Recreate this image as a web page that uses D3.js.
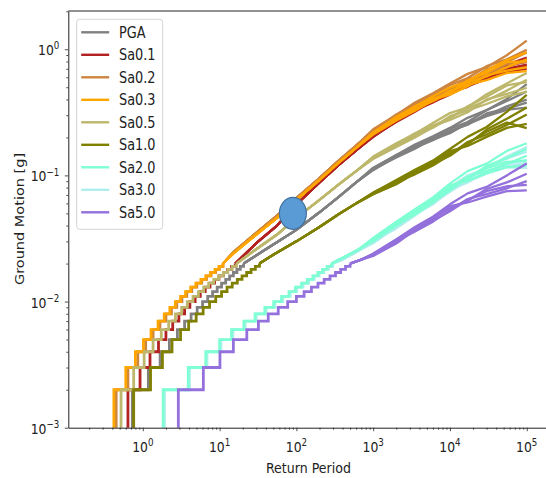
<!DOCTYPE html>
<html>
<head>
<meta charset="utf-8">
<script src="https://cdn.jsdelivr.net/npm/d3@7"></script>
<style>
  body { margin: 0; background: #fff; }
  text { font-family: "DejaVu Sans", sans-serif; fill: #222; }
</style>
</head>
<body>
<svg id="chart" width="546" height="478"></svg>
<script>

// ground motion levels of the staircase part (0.001 g resolution)
var levels = [0.002, 0.003, 0.004, 0.005, 0.006, 0.007, 0.008, 0.009, 0.010,
              0.011, 0.012, 0.013, 0.014, 0.015, 0.016, 0.017, 0.018, 0.019, 0.020];

// return period at which each level is first reached
var pgaStairs  = [0.73, 1.18, 1.68, 2.22, 2.82, 3.5, 4.25, 5.1, 6.0, 7.0, 8.1, 9.3, 10.6, 12.0, 13.5, 15.1, 16.8, 18.6, 20.5];
var sa01Stairs = [0.64, 0.92, 1.24, 1.60, 2.0, 2.45, 2.95, 3.5, 4.1, 4.8, 5.6, 6.5, 7.5, 8.6, 9.8, 11.2, 12.7, 14.3, 16.0];
var sa02Stairs = [0.45, 0.64, 0.86, 1.09, 1.36, 1.67, 2.0, 2.36, 2.77, 3.23, 3.74, 4.34, 5.05, 5.85, 6.75, 7.75, 8.85, 9.95, 11.1];
var sa03Stairs = [0.42, 0.60, 0.80, 1.02, 1.28, 1.58, 1.90, 2.25, 2.65, 3.1, 3.6, 4.2, 4.9, 5.7, 6.6, 7.6, 8.7, 9.8, 11.0];
var sa05Stairs = [0.52, 0.76, 1.04, 1.36, 1.74, 2.17, 2.66, 3.2, 3.8, 4.5, 5.3, 6.2, 7.2, 8.4, 9.7, 11.2, 12.8, 14.6, 16.6];
var sa10Stairs = [0.76, 1.26, 1.80, 2.40, 3.10, 3.95, 4.95, 6.1, 7.4, 8.9, 10.6, 12.5, 14.6, 17.0, 19.6, 22.5, 25.7, 29.2, 33.0];
var sa20Stairs = [1.84, 3.9, 6.6, 10.0, 14.3, 20.7, 28.9, 38.8, 50.5, 64, 80, 97, 117, 139, 164, 190, 219, 251, 286];
var sa30Stairs = [1.91, 4.05, 6.85, 10.4, 14.9, 21.5, 30, 40.4, 52.5, 66.5, 83, 101, 122, 145, 171, 198, 228, 261, 297];
var sa50Stairs = [2.9, 6.14, 10.1, 15.1, 22.6, 32, 43, 58, 77, 100, 126, 157, 191, 230, 274, 323, 377, 436, 500];

// [return period, ground motion] between the staircase and the tails
var pgaBody  = [[40, 0.026], [100, 0.037], [200, 0.051], [350, 0.067], [600, 0.088]];
var sa01Body = [[30, 0.029], [56, 0.040], [100, 0.059], [200, 0.088], [350, 0.120], [600, 0.158]];
var sa02Body = [[15, 0.0245], [30, 0.035], [56, 0.048], [100, 0.066], [200, 0.095], [350, 0.130], [600, 0.172]];
var sa03Body = [[15, 0.024], [30, 0.034], [56, 0.046], [100, 0.064], [200, 0.092], [350, 0.125], [600, 0.165]];
var sa05Body = [[30, 0.026], [56, 0.034], [100, 0.046], [200, 0.064], [350, 0.084], [600, 0.108]];
var sa10Body = [[50, 0.0235], [100, 0.030], [200, 0.039], [350, 0.049], [600, 0.060]];
var sa20Body = [[420, 0.0225], [650, 0.026]];
var sa30Body = [[430, 0.022], [660, 0.0255]];
var sa50Body = [[700, 0.0215]];

// tails: one row per realization, at these return periods
var tailPeriods = [1000, 2000, 3500, 6000, 10000, 17000, 30000, 55000, 100000];

var pgaTail = [
  [0.113, 0.145, 0.168, 0.201, 0.234, 0.265, 0.329, 0.389, 0.462],
  [0.111, 0.141, 0.170, 0.192, 0.216, 0.260, 0.298, 0.353, 0.399],
  [0.112, 0.139, 0.163, 0.196, 0.225, 0.252, 0.310, 0.338, 0.378],
  [0.115, 0.145, 0.176, 0.204, 0.238, 0.286, 0.329, 0.403, 0.529],
  [0.110, 0.142, 0.166, 0.190, 0.223, 0.255, 0.295, 0.331, 0.344]
];
var sa01Tail = [
  [0.207, 0.275, 0.330, 0.402, 0.473, 0.530, 0.647, 0.756, 0.858],
  [0.203, 0.267, 0.333, 0.382, 0.437, 0.520, 0.586, 0.686, 0.741],
  [0.205, 0.265, 0.320, 0.390, 0.455, 0.504, 0.610, 0.658, 0.702],
  [0.205, 0.273, 0.340, 0.394, 0.446, 0.541, 0.622, 0.735, 0.796],
  [0.201, 0.270, 0.327, 0.378, 0.450, 0.510, 0.580, 0.700, 0.757]
];
var sa02Tail = [
  [0.232, 0.301, 0.378, 0.447, 0.535, 0.638, 0.721, 0.896, 1.17],
  [0.221, 0.295, 0.349, 0.434, 0.490, 0.557, 0.694, 0.792, 0.945],
  [0.225, 0.286, 0.356, 0.409, 0.485, 0.580, 0.632, 0.760, 0.792],
  [0.227, 0.304, 0.364, 0.439, 0.520, 0.592, 0.734, 0.832, 0.990],
  [0.223, 0.289, 0.360, 0.426, 0.475, 0.539, 0.653, 0.720, 0.828]
];
var sa03Tail = [
  [0.219, 0.291, 0.350, 0.424, 0.497, 0.557, 0.682, 0.821, 0.944],
  [0.213, 0.274, 0.340, 0.388, 0.455, 0.546, 0.608, 0.720, 0.832],
  [0.215, 0.283, 0.333, 0.400, 0.437, 0.509, 0.620, 0.677, 0.720],
  [0.211, 0.272, 0.326, 0.392, 0.469, 0.525, 0.570, 0.648, 0.672],
  [0.217, 0.286, 0.354, 0.404, 0.451, 0.567, 0.651, 0.792, 0.800]
];
var sa05Tail = [
  [0.141, 0.180, 0.214, 0.260, 0.312, 0.347, 0.440, 0.536, 0.649],
  [0.137, 0.170, 0.208, 0.239, 0.286, 0.340, 0.392, 0.470, 0.572],
  [0.138, 0.175, 0.204, 0.246, 0.275, 0.317, 0.400, 0.442, 0.495],
  [0.135, 0.168, 0.200, 0.241, 0.295, 0.327, 0.368, 0.423, 0.462],
  [0.139, 0.176, 0.216, 0.248, 0.283, 0.353, 0.420, 0.517, 0.550]
];
var sa10Tail = [
  [0.073, 0.092, 0.111, 0.131, 0.162, 0.202, 0.242, 0.319, 0.435],
  [0.071, 0.086, 0.105, 0.129, 0.150, 0.176, 0.231, 0.281, 0.346],
  [0.072, 0.089, 0.102, 0.120, 0.146, 0.184, 0.211, 0.251, 0.304],
  [0.071, 0.085, 0.104, 0.125, 0.156, 0.171, 0.202, 0.238, 0.256],
  [0.073, 0.090, 0.107, 0.123, 0.143, 0.180, 0.222, 0.262, 0.237]
];
var sa20Tail = [
  [0.032, 0.043, 0.054, 0.067, 0.086, 0.108, 0.124, 0.156, 0.180],
  [0.031, 0.040, 0.051, 0.066, 0.080, 0.094, 0.119, 0.137, 0.162],
  [0.031, 0.041, 0.049, 0.061, 0.078, 0.098, 0.108, 0.123, 0.143],
  [0.030, 0.040, 0.050, 0.064, 0.083, 0.091, 0.104, 0.116, 0.120],
  [0.031, 0.042, 0.052, 0.063, 0.076, 0.096, 0.114, 0.128, 0.131]
];
var sa30Tail = [
  [0.030, 0.040, 0.049, 0.063, 0.080, 0.093, 0.114, 0.136, 0.154],
  [0.030, 0.039, 0.049, 0.060, 0.074, 0.091, 0.104, 0.123, 0.133],
  [0.030, 0.038, 0.048, 0.061, 0.077, 0.088, 0.108, 0.118, 0.126],
  [0.031, 0.040, 0.051, 0.063, 0.081, 0.100, 0.114, 0.141, 0.168],
  [0.029, 0.039, 0.049, 0.059, 0.076, 0.089, 0.103, 0.116, 0.115]
];
var sa50Tail = [
  [0.024, 0.031, 0.039, 0.047, 0.059, 0.072, 0.081, 0.100, 0.124],
  [0.0233, 0.029, 0.037, 0.046, 0.055, 0.063, 0.078, 0.088, 0.103],
  [0.0235, 0.030, 0.036, 0.043, 0.053, 0.065, 0.071, 0.079, 0.090],
  [0.023, 0.029, 0.037, 0.045, 0.057, 0.061, 0.068, 0.075, 0.076],
  [0.0237, 0.031, 0.038, 0.044, 0.052, 0.064, 0.075, 0.082, 0.084]
];

var names  = ["PGA", "Sa0.1", "Sa0.2", "Sa0.3", "Sa0.5", "Sa1.0", "Sa2.0", "Sa3.0", "Sa5.0"];
var colors = ["#808080", "#b22222", "#cd853f", "#ffa500", "#bdb76b", "#808000", "#7fffd4", "#afeeee", "#9370db"];
var stairs = [pgaStairs, sa01Stairs, sa02Stairs, sa03Stairs, sa05Stairs, sa10Stairs, sa20Stairs, sa30Stairs, sa50Stairs];
var bodies = [pgaBody, sa01Body, sa02Body, sa03Body, sa05Body, sa10Body, sa20Body, sa30Body, sa50Body];
var tails  = [pgaTail, sa01Tail, sa02Tail, sa03Tail, sa05Tail, sa10Tail, sa20Tail, sa30Tail, sa50Tail];

// highlighted point
var marker = {period: 90, motion: 0.05};

var xMajor = [1, 10, 100, 1000, 10000, 100000];
var xExp   = ["0", "1", "2", "3", "4", "5"];
var yMajor = [0.001, 0.01, 0.1, 1];
var yExp   = ["\u22123", "\u22122", "\u22121", "0"];

window.onload = () => {

  var svg = d3.select("#chart");
  var left = 68.3, right = 548.5, top = 11, bottom = 427.7;
  var stretch = 1.18;   // the picture is taller than it is wide

  var x = d3.scaleLog().domain([0.107, 1.92e5]).range([left, right]);
  var y = d3.scaleLog().domain([1e-3, 2.01]).range([bottom, top]);

  svg.append("defs").append("clipPath").attr("id", "clip")
    .append("rect")
      .attr("x", left).attr("y", top)
      .attr("width", right - left).attr("height", bottom - top);

  //###############################################
  // Curves
  //###############################################

  var plot = svg.append("g").attr("clip-path", "url(#clip)");

  var stepLine = d3.line()
    .x(function(d) { return x(d[0]); })
    .y(function(d) { return y(d[1]); })
    .curve(d3.curveStepAfter);

  var straight = d3.line()
    .x(function(d) { return x(d[0]); })
    .y(function(d) { return y(d[1]); });

  // Sa3.0 sits under Sa2.0
  var order = [0, 1, 2, 3, 4, 5, 7, 6, 8];

  order.forEach(function(s) {
    var st = stairs[s];
    var pts = [[st[0], 0.0009]].concat(st.map(function(t, i) { return [t, levels[i]]; }));

    var last = [st[st.length - 1], levels[levels.length - 1]];
    tails[s].forEach(function(row) {
      var line = [last].concat(bodies[s])
        .concat(tailPeriods.map(function(t, i) { return [t, row[i]]; }));
      plot.append("path")
        .attr("d", straight(line))
        .attr("fill", "none")
        .attr("stroke", colors[s])
        .attr("stroke-width", 2.3)
        .attr("stroke-linejoin", "round");
    });

    plot.append("path")
      .attr("d", stepLine(pts))
      .attr("fill", "none")
      .attr("stroke", colors[s])
      .attr("stroke-width", 2.8);
  });

  svg.append("ellipse")
    .attr("cx", x(marker.period))
    .attr("cy", y(marker.motion))
    .attr("rx", 13.5)
    .attr("ry", 16)
    .attr("fill", "#5b9bd5")
    .attr("stroke", "#41719c")
    .attr("stroke-width", 1.2);

  //###############################################
  // Axes
  //###############################################

  var xMinor = x.ticks().filter(function(t) { return xMajor.indexOf(t) < 0; });
  var yMinor = y.ticks().filter(function(t) { return yMajor.indexOf(t) < 0; });

  var gx = svg.append("g").attr("transform", "translate(0," + bottom + ")");
  gx.call(d3.axisBottom(x).tickValues(xMajor).tickSize(3.5).tickSizeOuter(0).tickFormat(""));
  gx.append("g").call(d3.axisBottom(x).tickValues(xMinor).tickSize(2).tickSizeOuter(0).tickFormat(""))
    .select(".domain").remove();

  var gy = svg.append("g").attr("transform", "translate(" + left + ",0)");
  gy.call(d3.axisLeft(y).tickValues(yMajor).tickSize(3.5).tickSizeOuter(0).tickFormat(""));
  gy.append("g").call(d3.axisLeft(y).tickValues(yMinor).tickSize(2).tickSizeOuter(0).tickFormat(""))
    .select(".domain").remove();

  svg.selectAll(".domain").attr("stroke", "#222").attr("stroke-width", 1);
  svg.selectAll(".tick line").attr("stroke", "#222").attr("stroke-width", 0.8);

  svg.append("line")
    .attr("x1", left).attr("x2", right)
    .attr("y1", top).attr("y2", top)
    .attr("stroke", "#222").attr("stroke-width", 1);
  svg.append("line")
    .attr("x1", right).attr("x2", right)
    .attr("y1", top).attr("y2", bottom)
    .attr("stroke", "#222").attr("stroke-width", 1);

  var xl = svg.append("g").selectAll("text")
    .data(xMajor)
    .enter().append("text")
      .attr("transform", function(d) { return "translate(" + x(d) + ",451.5) scale(1," + stretch + ")"; })
      .attr("text-anchor", "middle")
      .style("font-size", "12.4px");
  xl.append("tspan").text("10");
  xl.append("tspan")
      .attr("dy", -5)
      .style("font-size", "8.7px")
      .text(function(d, i) { return xExp[i]; });

  var yl = svg.append("g").selectAll("text")
    .data(yMajor)
    .enter().append("text")
      .attr("transform", function(d) { return "translate(" + (left - 9) + "," + (y(d) + 6) + ") scale(1," + stretch + ")"; })
      .attr("text-anchor", "end")
      .style("font-size", "12.4px");
  yl.append("tspan").text("10");
  yl.append("tspan")
      .attr("dy", -5)
      .style("font-size", "8.7px")
      .text(function(d, i) { return yExp[i]; });

  svg.append("text")
    .attr("transform", "translate(" + ((left + right) / 2) + ",473) scale(1," + stretch + ")")
    .attr("text-anchor", "middle")
    .style("font-size", "12.6px")
    .text("Return Period");

  svg.append("text")
    .attr("transform", "translate(23.5,219) scale(1," + stretch + ") rotate(-90)")
    .attr("text-anchor", "middle")
    .style("font-size", "12.3px")
    .text("Ground Motion [g]");

  //###############################################
  // Legend
  //###############################################

  var legend = svg.append("g").attr("transform", "translate(76.7,19.3)");
  legend.append("rect")
    .attr("width", 86).attr("height", 210)
    .attr("rx", 3)
    .attr("fill", "#fff").attr("fill-opacity", 0.85)
    .attr("stroke", "#d4d4d4");

  var item = legend.selectAll("g.item")
    .data(names)
    .enter().append("g")
      .attr("class", "item")
      .attr("transform", function(d, i) { return "translate(0," + (13 + i * 22.5) + ")"; });
  item.append("line")
    .attr("x1", 4.5).attr("x2", 32.5)
    .attr("stroke", function(d, i) { return colors[i]; })
    .attr("stroke-width", 2.4);
  item.append("text")
    .attr("transform", "translate(42.3,0) scale(1," + stretch + ")")
    .attr("dy", "0.36em")
    .style("font-size", "12.9px")
    .text(function(d) { return d; });

}
</script>
</body>
</html>
